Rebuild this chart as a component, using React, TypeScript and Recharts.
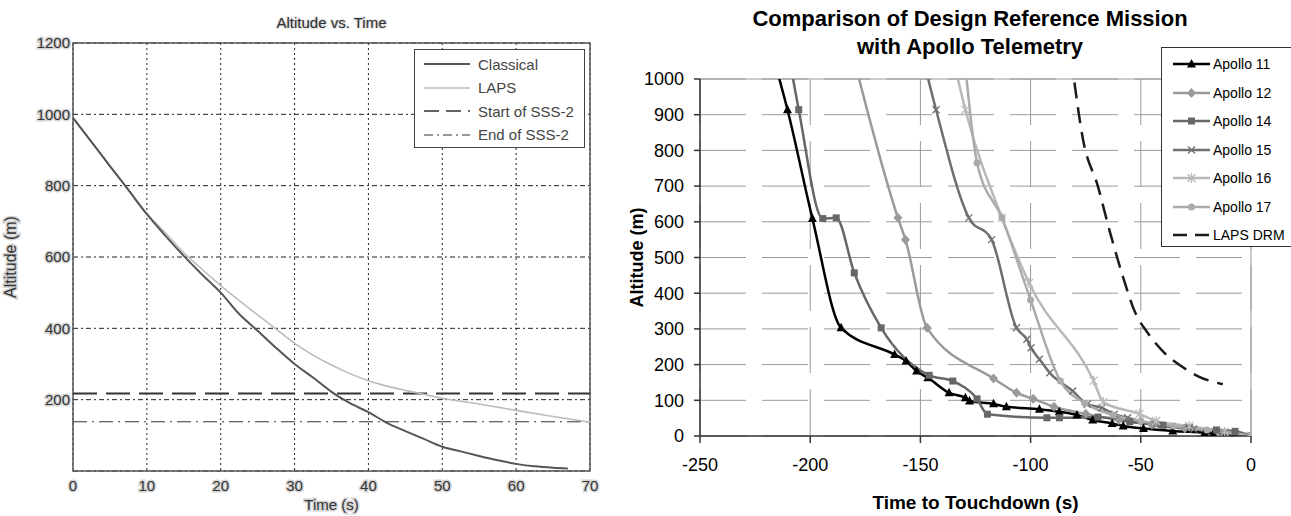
import React from 'react';
import {
  LineChart,
  Line,
  XAxis,
  YAxis,
  CartesianGrid,
  ReferenceLine,
  ReferenceArea,
  Legend,
  Label,
} from 'recharts';

const FONT = '"Liberation Sans", Arial, sans-serif';

// ---------- left chart: Altitude vs. Time ----------
const classicalTime = [0, 2.5, 5, 7.5, 10, 12.5, 15, 17.5, 20, 22.5, 25, 27.5, 30, 32.5, 35, 37.5, 40, 42.5, 45, 47.5, 50, 52.5, 55, 57.5, 60, 62.5, 65, 67];
const classicalAlt = [990, 923, 855, 788, 720, 660, 603, 550, 500, 440, 393, 345, 300, 262, 222, 190, 165, 135, 112, 90, 68, 55, 42, 30, 20, 13, 9, 7];
const lapsTime = [0, 2.5, 5, 7.5, 10, 12.5, 15, 17.5, 20, 22.5, 25, 27.5, 30, 32.5, 35, 37.5, 40, 42.5, 45, 47.5, 50, 55, 60, 65, 70];
const lapsAlt = [990, 923, 855, 788, 722, 668, 612, 565, 520, 478, 438, 398, 358, 325, 297, 273, 253, 238, 226, 215, 204, 188, 170, 153, 137];
const sss2Start = 217;
const sss2End = 138;
const leftTimeTicks = [0, 10, 20, 30, 40, 50, 60, 70];
const leftAltTicks = [200, 400, 600, 800, 1000, 1200];

// ---------- right chart: DRM vs Apollo telemetry ----------
const apollo11Time = [-216, -210.3, -199, -186, -161.7, -156.5, -151.7, -146.6, -137, -129.6, -127.7, -116.8, -111, -96, -87, -79, -71.8, -63, -58, -48.8, -35.5, -21, -17, 0];
const apollo11Alt = [1045, 914, 609, 303, 228, 210, 182, 163, 121, 107, 98, 90, 82, 75, 68, 59, 45, 35, 28, 21, 14, 9, 7, 0];
const apollo12Time = [-179.5, -160.2, -156.8, -147, -116.8, -106.4, -98.8, -89.4, -75, -60, -45, -30, -15, 0];
const apollo12Alt = [1040, 611, 550, 303, 161, 121, 104, 82, 62, 45, 32, 22, 12, 0];
const apollo14Time = [-209, -205.2, -194.3, -188.2, -180, -167.8, -146, -135.3, -124.3, -119.6, -92.6, -86.9, -69.4, -55, -40, -28, -15.7, -7.2, 0];
const apollo14Alt = [1040, 914, 609, 611, 457, 303, 170, 154, 104, 61, 51, 51, 53, 40, 30, 24, 17, 13, 0];
const apollo15Time = [-148.5, -142.9, -128, -117.7, -106.4, -101.7, -99.8, -96, -91.3, -80.9, -74.3, -67.6, -62, -56, -43, -26, -12, 0];
const apollo15Alt = [1050, 914, 611, 550, 303, 271, 247, 215, 177, 126, 89, 79, 61, 51, 30, 19, 10, 0];
const apollo16Time = [-134.5, -129.6, -113, -100.7, -71.4, -67, -50.6, -43, -28, -12, 0];
const apollo16Alt = [1040, 914, 611, 429, 155, 95, 62, 42, 28, 12, 0];
const apollo17Time = [-130, -124.3, -113, -100, -86.5, -75.5, -62.6, -50, -35, -20, 0];
const apollo17Alt = [1060, 765, 611, 381, 154, 92, 59, 42, 28, 17, 0];
const drmTime = [-81.5, -80.3, -76.2, -69.5, -63.9, -58.2, -52.5, -46.9, -39.3, -31.7, -24.2, -12.8];
const drmAlt = [1060, 1000, 830, 700, 569, 448, 345, 289, 233, 196, 168, 145];
const rightTimeTicks = [-250, -200, -150, -100, -50, 0];
const rightAltTicks = [0, 100, 200, 300, 400, 500, 600, 700, 800, 900, 1000];

const zip = (ts: number[], alts: number[]) => ts.map((t, i) => ({ t, alt: alts[i] }));

type Marker = 'triangle' | 'diamond' | 'square' | 'x' | 'star' | 'circle' | 'none';

const drawMarker = (kind: Marker, cx: number, cy: number, color: string, k?: string | number) => {
  switch (kind) {
    case 'triangle':
      return <path key={k} d={`M${cx},${cy - 5}L${cx + 4.5},${cy + 3.5}L${cx - 4.5},${cy + 3.5}Z`} fill={color} />;
    case 'diamond':
      return <path key={k} d={`M${cx},${cy - 5}L${cx + 4.5},${cy}L${cx},${cy + 5}L${cx - 4.5},${cy}Z`} fill={color} />;
    case 'square':
      return <rect key={k} x={cx - 3.5} y={cy - 3.5} width={7} height={7} fill={color} />;
    case 'x':
      return (
        <path key={k} d={`M${cx - 3.5},${cy - 3.5}L${cx + 3.5},${cy + 3.5}M${cx - 3.5},${cy + 3.5}L${cx + 3.5},${cy - 3.5}`} stroke={color} strokeWidth={1.3} />
      );
    case 'star':
      return (
        <path
          key={k}
          d={`M${cx - 4},${cy - 4}L${cx + 4},${cy + 4}M${cx - 4},${cy + 4}L${cx + 4},${cy - 4}M${cx},${cy - 5}L${cx},${cy + 5}`}
          stroke={color}
          strokeWidth={1.3}
        />
      );
    case 'circle':
      return <circle key={k} cx={cx} cy={cy} r={3.5} fill={color} />;
    default:
      return <g key={k} />;
  }
};

const markerDot = (kind: Marker, color: string) => (props: any) => {
  const { cx, cy, index } = props;
  if (cx == null || cy == null) return <g key={`d-${index}`} />;
  return drawMarker(kind, cx, cy, color, `d-${index}`);
};

const rightSeries = [
  { name: 'Apollo 11', data: zip(apollo11Time, apollo11Alt), color: '#000000', marker: 'triangle' as Marker, dash: undefined },
  { name: 'Apollo 12', data: zip(apollo12Time, apollo12Alt), color: '#9a9a9a', marker: 'diamond' as Marker, dash: undefined },
  { name: 'Apollo 14', data: zip(apollo14Time, apollo14Alt), color: '#676767', marker: 'square' as Marker, dash: undefined },
  { name: 'Apollo 15', data: zip(apollo15Time, apollo15Alt), color: '#6f6f6f', marker: 'x' as Marker, dash: undefined },
  { name: 'Apollo 16', data: zip(apollo16Time, apollo16Alt), color: '#b9b9b9', marker: 'star' as Marker, dash: undefined },
  { name: 'Apollo 17', data: zip(apollo17Time, apollo17Alt), color: '#ababab', marker: 'circle' as Marker, dash: undefined },
  { name: 'LAPS DRM', data: zip(drmTime, drmAlt), color: '#1a1a1a', marker: 'none' as Marker, dash: '16 9' },
];

const leftLegendItems = [
  { label: 'Classical', color: '#555', width: 2, dash: undefined },
  { label: 'LAPS', color: '#bbb', width: 1.5, dash: undefined },
  { label: 'Start of SSS-2', color: '#333', width: 1.5, dash: '15 7' },
  { label: 'End of SSS-2', color: '#333', width: 1, dash: '9 4 2 4' },
];

const haloTick = { fill: '#333', fontSize: 15, fontFamily: FONT, stroke: '#d4d4d4', strokeWidth: 3, paintOrder: 'stroke' } as any;

const LeftLegend = () => (
  <div
    style={{
      boxSizing: 'border-box',
      width: 171,
      height: 99,
      border: '1px solid #444',
      background: '#fff',
      position: 'relative',
      fontSize: 15,
      color: '#444',
      fontFamily: FONT,
    }}
  >
    {leftLegendItems.map((it, i) => (
      <div key={it.label} style={{ position: 'absolute', left: 9, top: 5 + i * 23.5, height: 18, display: 'flex', alignItems: 'center' }}>
        <svg width={47} height={10}>
          <line x1={0} y1={5} x2={46} y2={5} stroke={it.color} strokeWidth={it.width} strokeDasharray={it.dash} />
        </svg>
        <span style={{ marginLeft: 7, whiteSpace: 'nowrap' }}>{it.label}</span>
      </div>
    ))}
  </div>
);

const RightLegend = () => (
  <div
    style={{
      boxSizing: 'border-box',
      width: 131,
      height: 200,
      border: '1px solid #333',
      background: '#fff',
      position: 'relative',
      fontSize: 14,
      color: '#000',
      fontFamily: FONT,
    }}
  >
    {rightSeries.map((s, i) => (
      <div key={s.name} style={{ position: 'absolute', left: 11, top: 7 + i * 28.5, height: 18, display: 'flex', alignItems: 'center' }}>
        <svg width={38} height={14}>
          <line x1={0} y1={7} x2={37} y2={7} stroke={s.color} strokeWidth={2.5} strokeDasharray={s.dash ? '14 8' : undefined} />
          {drawMarker(s.marker, 18.5, 7, s.color)}
        </svg>
        <span style={{ marginLeft: 2, whiteSpace: 'nowrap' }}>{s.name}</span>
      </div>
    ))}
  </div>
);

const LeftChart = () => (
  <div style={{ position: 'absolute', left: 0, top: 0, width: 610, height: 516 }}>
    <div
      style={{
        position: 'absolute',
        left: 73,
        width: 517,
        top: 14,
        textAlign: 'center',
        fontSize: 15,
        color: '#333',
        fontFamily: FONT,
        textShadow: '0 0 2px #bbb, 0 0 2px #bbb',
      }}
    >
      Altitude vs. Time
    </div>
    <LineChart width={610} height={516} margin={{ top: 43, right: 20, bottom: 0, left: 0 }}>
      <CartesianGrid horizontal={false} stroke="#222" strokeDasharray="2 3" />
      <CartesianGrid vertical={false} stroke="#222" strokeDasharray="5 3 2 3" />
      <XAxis
        type="number"
        dataKey="t"
        domain={[0, 70]}
        ticks={leftTimeTicks}
        allowDataOverflow
        axisLine={false}
        tickLine={false}
        tickSize={0}
        tickMargin={9}
        height={45}
        tick={haloTick}
      >
        <Label
          value="Time (s)"
          position="insideBottom"
          offset={6}
          fill="#333"
          fontSize={15}
          fontFamily={FONT}
          stroke="#d4d4d4"
          strokeWidth={3}
          style={{ paintOrder: 'stroke', fontFamily: FONT }}
        />
      </XAxis>
      <YAxis
        type="number"
        dataKey="alt"
        domain={[0, 1200]}
        ticks={leftAltTicks}
        allowDataOverflow
        axisLine={false}
        tickLine={false}
        tickSize={0}
        tickMargin={3}
        width={73}
        tick={haloTick}
      >
        <Label
          value="Altitude (m)"
          angle={-90}
          position="insideLeft"
          offset={10}
          fill="#333"
          fontSize={16}
          fontFamily={FONT}
          stroke="#d4d4d4"
          strokeWidth={3}
          style={{ textAnchor: 'middle', paintOrder: 'stroke', fontFamily: FONT }}
        />
      </YAxis>
      <ReferenceArea x1={0} x2={70} y1={0} y2={1200} fill="none" stroke="#555" strokeWidth={1.5} />
      <ReferenceLine y={sss2Start} stroke="#333" strokeWidth={2} strokeDasharray="24 9" />
      <ReferenceLine y={sss2End} stroke="#333" strokeWidth={1} strokeDasharray="14 5 2 5" />
      <Line data={zip(lapsTime, lapsAlt)} dataKey="alt" name="LAPS" type="monotone" stroke="#bbbbbb" strokeWidth={1.6} dot={false} isAnimationActive={false} />
      <Line data={zip(classicalTime, classicalAlt)} dataKey="alt" name="Classical" type="monotone" stroke="#555555" strokeWidth={2} dot={false} isAnimationActive={false} />
      <Legend content={<LeftLegend />} layout="vertical" align="center" verticalAlign="middle" wrapperStyle={{ left: 414, top: 49, width: 171, height: 99 }} />
    </LineChart>
  </div>
);

const RightChart = () => (
  <div style={{ position: 'absolute', left: 615, top: 0, width: 676, height: 516 }}>
    <div
      style={{
        position: 'absolute',
        left: 55,
        width: 600,
        top: 5,
        textAlign: 'center',
        fontSize: 22,
        lineHeight: '28px',
        fontWeight: 'bold',
        color: '#000',
        fontFamily: FONT,
      }}
    >
      Comparison of Design Reference Mission
      <br />
      with Apollo Telemetry
    </div>
    <LineChart width={676} height={516} margin={{ top: 79, right: 40, bottom: 0, left: 10 }}>
      <CartesianGrid stroke="#9a9a9a" strokeDasharray="46 16" />
      <ReferenceLine y={1000} stroke="#9a9a9a" />
      <ReferenceLine x={0} stroke="#9a9a9a" />
      <XAxis
        type="number"
        dataKey="t"
        domain={[-250, 0]}
        ticks={rightTimeTicks}
        allowDataOverflow
        stroke="#333"
        strokeWidth={1.5}
        tickSize={7}
        tickMargin={15}
        height={80}
        tick={{ fill: '#000', fontSize: 18, fontFamily: FONT }}
      >
        <Label
          value="Time to Touchdown (s)"
          position="insideBottom"
          offset={7}
          fill="#000"
          fontSize={19}
          fontWeight="bold"
          fontFamily={FONT}
          style={{ fontFamily: FONT }}
        />
      </XAxis>
      <YAxis
        type="number"
        dataKey="alt"
        domain={[0, 1000]}
        ticks={rightAltTicks}
        allowDataOverflow
        stroke="#333"
        strokeWidth={1.5}
        tickSize={6}
        tickMargin={10}
        width={75}
        tick={{ fill: '#000', fontSize: 18, fontFamily: FONT }}
      >
        <Label
          value="Altitude (m)"
          angle={-90}
          position="insideLeft"
          offset={12}
          fill="#000"
          fontSize={18}
          fontWeight="bold"
          fontFamily={FONT}
          style={{ textAnchor: 'middle', fontFamily: FONT }}
        />
      </YAxis>
      {rightSeries.map((s) => (
        <Line
          key={s.name}
          data={s.data}
          dataKey="alt"
          name={s.name}
          type="monotone"
          stroke={s.color}
          strokeWidth={2.5}
          strokeDasharray={s.dash}
          dot={s.marker === 'none' ? false : markerDot(s.marker, s.color)}
          activeDot={false}
          isAnimationActive={false}
        />
      ))}
      <Legend content={<RightLegend />} layout="vertical" align="center" verticalAlign="middle" wrapperStyle={{ left: 546, top: 47, width: 131, height: 200 }} />
    </LineChart>
  </div>
);

export default function App() {
  return (
    <div style={{ position: 'absolute', left: 0, top: 0, width: 1291, height: 516, background: '#fff', overflow: 'hidden' }}>
      <LeftChart />
      <RightChart />
    </div>
  );
}
